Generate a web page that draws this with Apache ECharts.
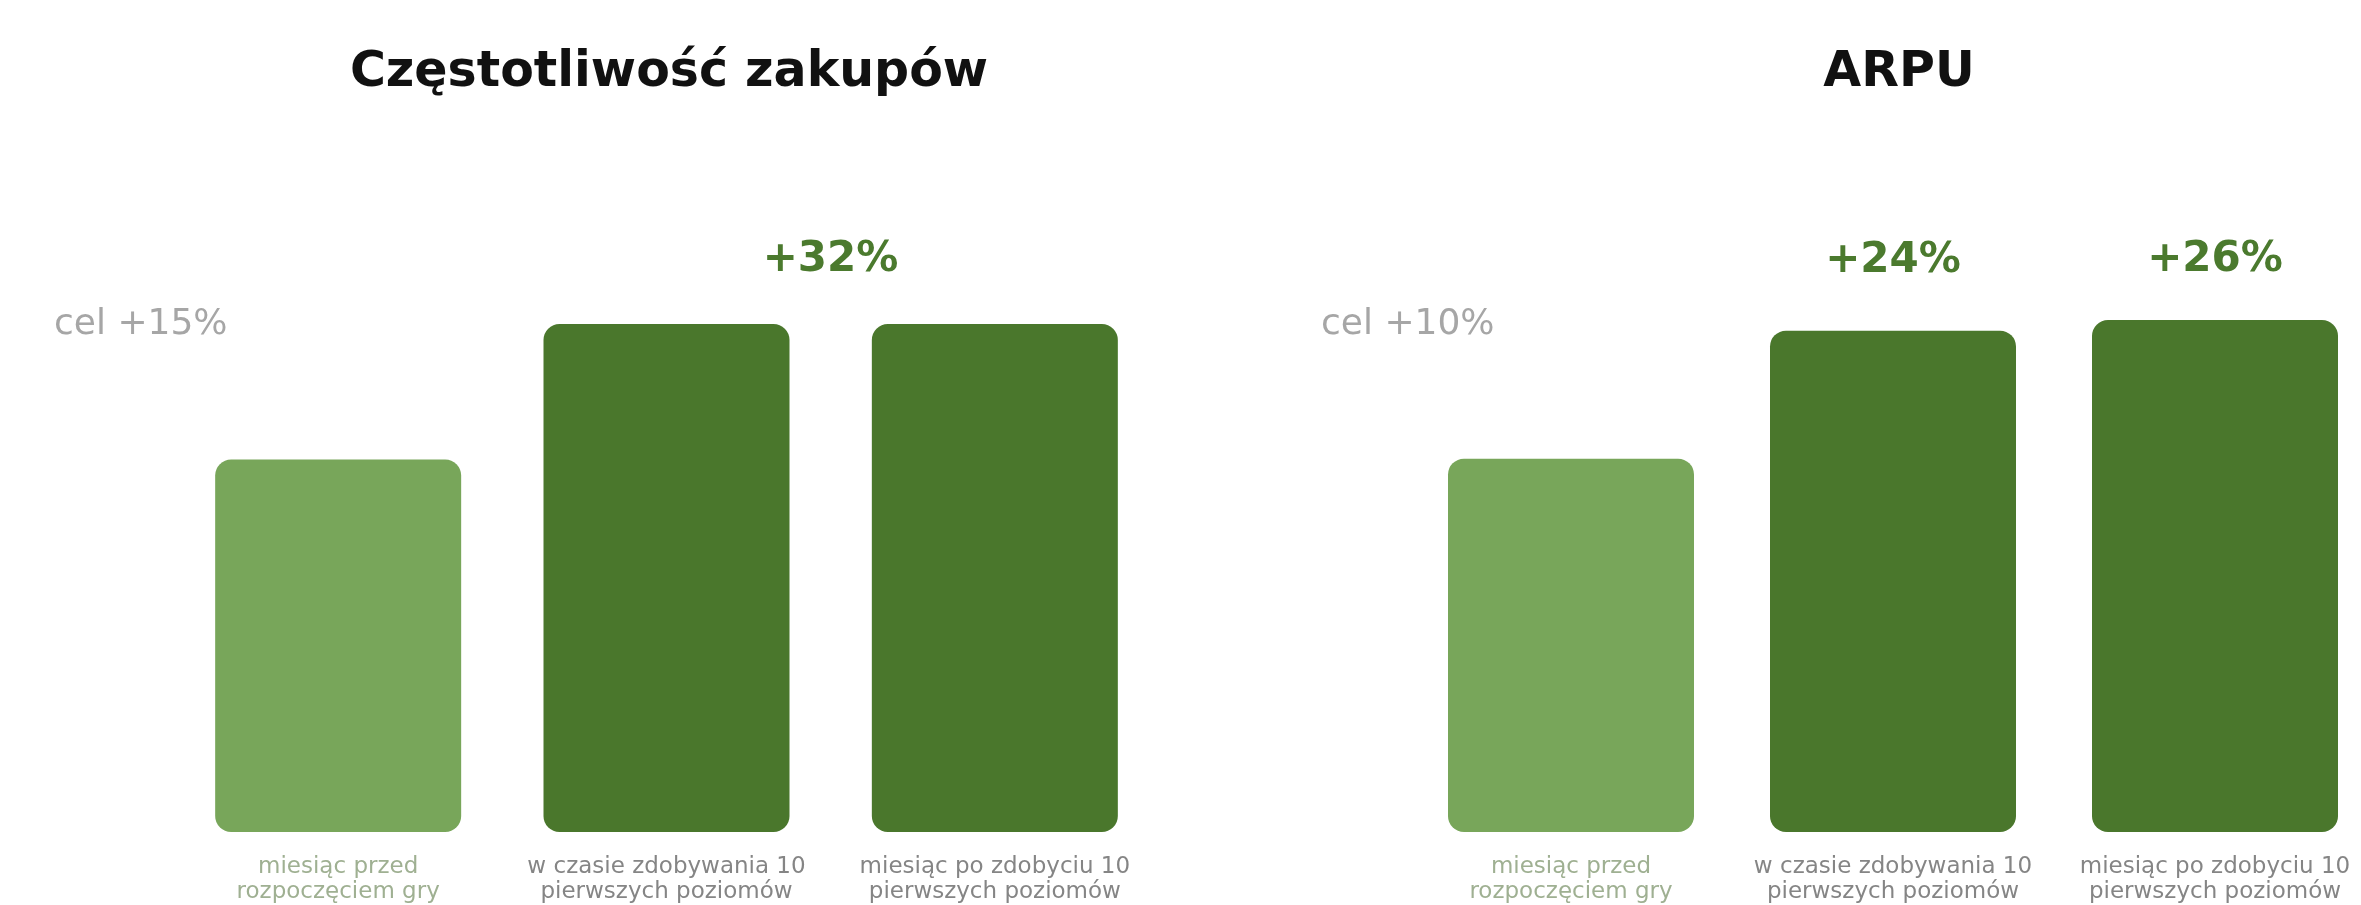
<!DOCTYPE html>
<html>
<head>
<meta charset="utf-8">
<script src="https://cdn.jsdelivr.net/npm/echarts@6/dist/echarts.min.js"></script>
<style>
  html, body { margin: 0; padding: 0; background: #ffffff; }
  #chart { width: 2361px; height: 905px; }
</style>
</head>
<body>
<div id="chart"></div>
<script>
// Categories shared by both panels
const categories = [
  'miesiąc przed\nrozpoczęciem gry',
  'w czasie zdobywania 10\npierwszych poziomów',
  'miesiąc po zdobyciu 10\npierwszych poziomów'
];

// Index values (month before the game = 100)
const freqValues = [100, 132, 132];
const arpuValues = [100, 124, 126];

// Panel titles and target growth (%)
const freqTitle = 'Częstotliwość zakupów';
const arpuTitle = 'ARPU';
const freqTarget = 15;
const arpuTarget = 10;

const LIGHT = '#78a65a';
const DARK = '#4a772c';
const LABEL_GREEN = '#4b7a2e';

function growth(v, base) {
  return '+' + Math.round((v / base - 1) * 100) + '%';
}

const chart = echarts.init(document.getElementById('chart'), null, { renderer: 'canvas' });

function xAxisFor(gridIndex) {
  return {
    type: 'category',
    gridIndex: gridIndex,
    data: categories,
    axisLine: { show: false },
    axisTick: { show: false },
    axisLabel: {
      interval: 0,
      margin: 23,
      fontFamily: 'DejaVu Sans',
      fontSize: 23,
      lineHeight: 25,
      color: (val, idx) => idx === 0 ? '#9fb092' : '#858585'
    }
  };
}

function barSeries(values, axisIndex, labelConf) {
  const base = values[0];
  return {
    type: 'bar',
    xAxisIndex: axisIndex,
    yAxisIndex: axisIndex,
    barWidth: 246,
    data: values.map((v, i) => {
      const item = {
        value: v,
        itemStyle: { color: i === 0 ? LIGHT : DARK, borderRadius: 16 }
      };
      const conf = labelConf[i];
      item.label = conf ? {
        show: true,
        position: 'top',
        distance: conf.distance,
        offset: [conf.dx || 0, 0],
        formatter: () => growth(v, base),
        fontFamily: 'DejaVu Sans',
        fontWeight: 'bold',
        fontSize: 42,
        color: LABEL_GREEN
      } : { show: false };
      return item;
    })
  };
}

const titleFont = { fontFamily: 'DejaVu Sans', fontWeight: 'bold', fontSize: 49, color: '#111111' };
const targetFont = { fontFamily: 'DejaVu Sans', fontWeight: 'normal', fontSize: 36, color: '#a6a6a6' };

const option = {
  backgroundColor: '#ffffff',
  animation: false,
  title: [
    { text: freqTitle, left: 664, top: 44, textAlign: 'center', textStyle: titleFont },
    { text: arpuTitle, left: 1894, top: 44, textAlign: 'center', textStyle: titleFont },
    { text: 'cel +' + freqTarget + '%', left: 49, top: 302, textStyle: targetFont },
    { text: 'cel +' + arpuTarget + '%', left: 1316, top: 302, textStyle: targetFont }
  ],
  grid: [
    { left: 174, width: 985, top: 324, bottom: 73, outerBoundsMode: 'none' },
    { left: 1410, width: 966, top: 320, bottom: 73, outerBoundsMode: 'none' }
  ],
  xAxis: [xAxisFor(0), xAxisFor(1)],
  yAxis: [
    { type: 'value', gridIndex: 0, min: 12, max: 132, show: false, splitLine: { show: false } },
    { type: 'value', gridIndex: 1, min: 30, max: 126, show: false, splitLine: { show: false } }
  ],
  series: [
    // one shared growth label spanning the two later bars
    barSeries(freqValues, 0, [null, { distance: 43, dx: 164 }, null]),
    barSeries(arpuValues, 1, [null, { distance: 49 }, { distance: 39 }])
  ]
};

chart.setOption(option);
</script>
</body>
</html>
